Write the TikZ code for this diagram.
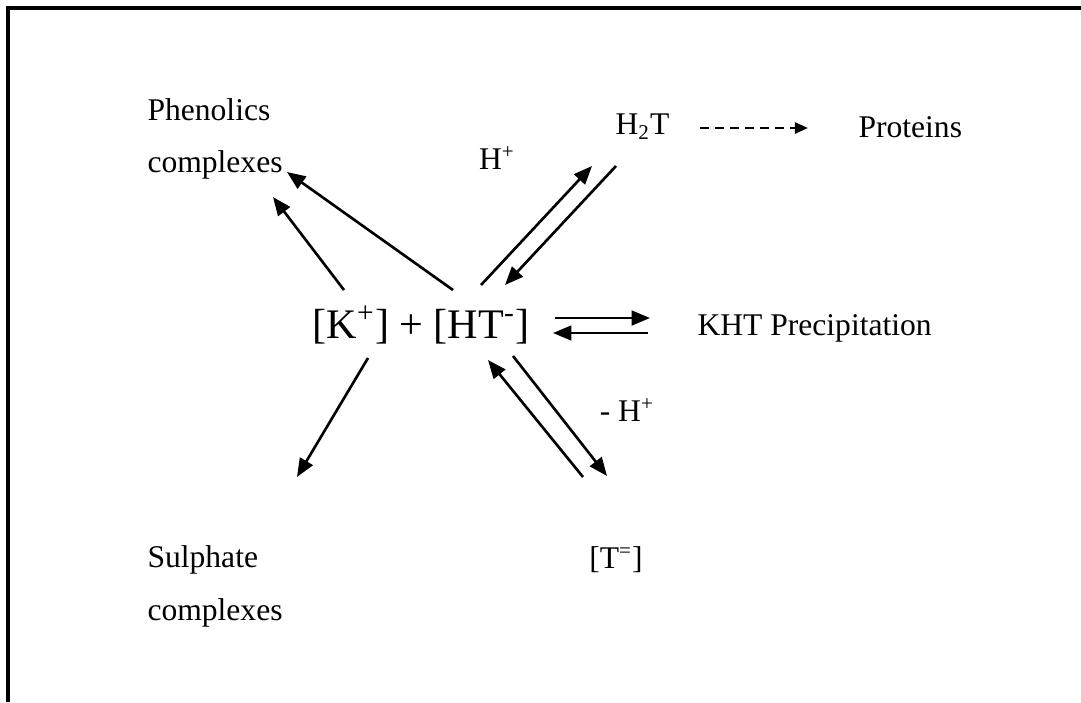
\documentclass[tikz,border=0pt]{standalone}
\usepackage{fontspec}
\setmainfont{Liberation Serif}
\usetikzlibrary{arrows.meta,calc}

\tikzset{
  lbl/.style={inner sep=0pt, font=\fontsize{12}{14}\selectfont},
  rxn/.style={line width=1pt, -{Triangle[length=7pt,width=5.6pt]}},
  dashrxn/.style={line width=1pt, dash pattern=on 3.3pt off 2.4pt,
    -{Triangle[length=5pt,width=4.2pt]}}
}

\begin{document}
\begin{tikzpicture}[x=0.38pt, y=-0.38pt]
    \useasboundingbox (0,0) rectangle (1081,702);
    % frame
    \draw[line width=1.3pt] (8,702) -- (8,8) -- (1081,8);
    % species
    \node [lbl, anchor=west] (phen1) at (147,110) {Phenolics};
    \node [lbl, anchor=west] (phen2) at (147,165) {complexes};
    \node [lbl, anchor=west] (h2t) at (615,127) {H\textsubscript{2}T};
    \node [lbl, anchor=west] (prot) at (858,127) {Proteins};
    \node [lbl] (hplus) at (497,158) {H\textsuperscript{+}};
    \node [inner sep=0pt, font=\fontsize{16}{19}\selectfont] (ions) at (421,325)
        {[K\textsuperscript{+}] + [HT\textsuperscript{-}]};
    \node [lbl, anchor=west] (khtp) at (697,328) {KHT Precipitation};
    \node [lbl] (mhplus) at (627,410) {- H\textsuperscript{+}};
    \node [lbl, anchor=west] (sulph1) at (147,560) {Sulphate};
    \node [lbl, anchor=west] (sulph2) at (147,613) {complexes};
    \node [lbl] (tion) at (616,560) {[T\textsuperscript{=}]};
    % phenolics
    \draw[rxn] ($(ions)+(-77,-35)$) -- ($(phen2.west)+(126,32)$);
    \draw[rxn] ($(ions)+(32,-35)$) -- ($(phen2.west)+(140,7)$);
    % H2T
    \draw[rxn] ($(ions)+(60,-40)$) -- ($(h2t.west)+(-23,39)$);
    \draw[rxn] ($(h2t.west)+(1,39)$) -- ($(ions)+(84,-40)$);
    \draw[dashrxn] ($(h2t.west)+(85,1)$) -- ($(prot.west)+(-50,1)$);
    % precipitation
    \draw[rxn] ($(ions)+(134,-7)$) -- ($(khtp.west)+(-47,-10)$);
    \draw[rxn] ($(khtp.west)+(-49,5)$) -- ($(ions)+(132,8)$);
    % sulphate
    \draw[rxn] ($(ions)+(-53,33)$) -- ($(sulph1.west)+(150,-83)$);
    % tartrate
    \draw[rxn] ($(ions)+(92,31)$) -- ($(tion)+(-9,-84)$);
    \draw[rxn] ($(tion)+(-33,-83)$) -- ($(ions)+(67,35)$);
\end{tikzpicture}
\end{document}
